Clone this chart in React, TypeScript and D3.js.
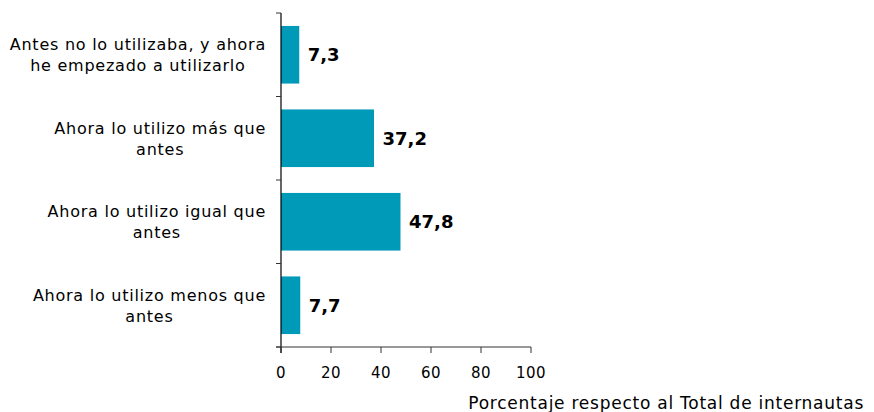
import React, { useEffect, useRef } from "react";
import * as d3 from "d3";

const categories: string[][] = [
  ["Antes no lo utilizaba, y ahora", "he empezado a utilizarlo"],
  ["Ahora lo utilizo más que", "antes"],
  ["Ahora lo utilizo igual que", "antes"],
  ["Ahora lo utilizo menos que", "antes"],
];
const values: number[] = [7.3, 37.2, 47.8, 7.7];
const xTicks: number[] = [0, 20, 40, 60, 80, 100];
const axisTitle = "Porcentaje respecto al Total de internautas";

const W = 874;
const H = 412;
const FONT = "'DejaVu Sans', Verdana, sans-serif";

export default function App() {
  const ref = useRef<SVGSVGElement>(null);

  useEffect(() => {
    const svg = d3.select(ref.current);
    svg.selectAll("*").remove();

    const x = d3.scaleLinear().domain([0, 100]).range([281, 531]);
    const y = d3
      .scaleBand<number>()
      .domain(d3.range(categories.length))
      .range([13, 347])
      .paddingInner(0.31)
      .paddingOuter(0.155);
    const step = y.step();
    const top = 13;

    const g = svg.append("g");

    // bars
    g.selectAll("rect.bar")
      .data(values)
      .enter()
      .append("rect")
      .attr("x", x(0))
      .attr("y", (_d, i) => y(i)!)
      .attr("width", (d) => x(d) - x(0))
      .attr("height", y.bandwidth())
      .attr("fill", "#009ab9");

    // value labels
    g.selectAll("text.val")
      .data(values)
      .enter()
      .append("text")
      .attr("x", (d) => x(d) + 8.5)
      .attr("y", (_d, i) => y(i)! + y.bandwidth() / 2)
      .attr("dy", "0.36em")
      .attr("font-family", FONT)
      .attr("font-weight", "bold")
      .attr("font-size", 18)
      .attr("fill", "#000")
      .text((d) => d3.format(".1f")(d).replace(".", ","));

    // y axis line + ticks (category boundaries)
    g.append("line")
      .attr("x1", x(0))
      .attr("x2", x(0))
      .attr("y1", top)
      .attr("y2", 353)
      .attr("stroke", "#000")
      .attr("stroke-width", 1.2);
    d3.range(categories.length + 1).forEach((i) => {
      const yy = top + i * step;
      g.append("line")
        .attr("x1", x(0) - 5)
        .attr("x2", x(0))
        .attr("y1", yy)
        .attr("y2", yy)
        .attr("stroke", "#333")
        .attr("stroke-width", 1);
    });

    // x axis
    const xAxisY = 347;
    g.append("line")
      .attr("x1", x(0) - 5)
      .attr("x2", x(100))
      .attr("y1", xAxisY)
      .attr("y2", xAxisY)
      .attr("stroke", "#333")
      .attr("stroke-width", 1);
    xTicks.forEach((t) => {
      g.append("line")
        .attr("x1", x(t))
        .attr("x2", x(t))
        .attr("y1", xAxisY)
        .attr("y2", xAxisY + 6)
        .attr("stroke", "#333")
        .attr("stroke-width", 1);
      g.append("text")
        .attr("x", x(t))
        .attr("y", 373)
        .attr("dy", "0.36em")
        .attr("text-anchor", "middle")
        .attr("font-family", FONT)
        .attr("font-size", 15)
        .attr("letter-spacing", 0.5)
        .attr("fill", "#000")
        .text(String(t));
    });

    // category labels
    const labelRight = 266;
    categories.forEach((lines, i) => {
      const cy = top + i * step + step / 2;
      const t = g
        .append("text")
        .attr("font-family", FONT)
        .attr("font-size", 16)
        .attr("letter-spacing", 0.75)
        .attr("fill", "#000")
        .attr("text-anchor", "middle");
      const tspans = lines.map((ln, j) =>
        t
          .append("tspan")
          .attr("y", cy + (j - (lines.length - 1) / 2) * 21)
          .attr("dy", "0.36em")
          .text(ln)
      );
      let maxW = 0;
      tspans.forEach((ts) => {
        const node = ts.node() as SVGTSpanElement;
        maxW = Math.max(maxW, node.getComputedTextLength());
      });
      tspans.forEach((ts) => ts.attr("x", labelRight - maxW / 2));
    });

    // axis title
    g.append("text")
      .attr("x", 864)
      .attr("y", 409)
      .attr("text-anchor", "end")
      .attr("font-family", FONT)
      .attr("font-size", 17)
      .attr("letter-spacing", 0.75)
      .attr("fill", "#000")
      .text(axisTitle);
  }, []);

  return (
    <svg
      ref={ref}
      width={W}
      height={H}
      style={{ display: "block", position: "absolute", left: 0, top: 0, background: "#fff" }}
    />
  );
}
